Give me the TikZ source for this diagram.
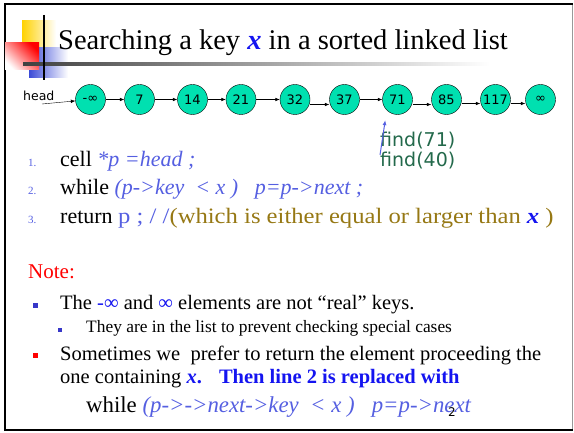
\documentclass[tikz,border=0pt]{standalone}
\usepackage{fontspec}
\setmainfont{Liberation Serif}
\newfontfamily\slidesans{DejaVu Sans}
\newfontfamily\widecode[FakeStretch=1.12]{Liberation Serif}
\usetikzlibrary{arrows.meta, positioning}
\definecolor{nodeteal}{RGB}{0, 224, 176}
\definecolor{codeblue}{RGB}{85, 95, 225}
\definecolor{keyblue}{RGB}{20, 20, 240}
\definecolor{commentolive}{RGB}{150, 120, 20}
\definecolor{findgreen}{RGB}{35, 105, 75}
\definecolor{bulletblue}{RGB}{55, 55, 200}
\definecolor{logoyellow}{RGB}{255, 210, 0}
\definecolor{logoblue}{RGB}{60, 75, 215}
\newcommand{\keyx}{\textcolor{keyblue}{\textbf{\textit{x}}}}

\begin{document}
\begin{tikzpicture}[x=1pt, y=-1pt,
  elem/.style={circle, draw=black, fill=nodeteal, minimum size=30pt, inner sep=0pt,
    font=\slidesans\fontsize{13}{13}\selectfont},
  nxt/.style={-{Latex[length=4.5pt, width=3.5pt]}, thin},
  ptr/.style={-{Latex[length=5pt, width=4pt]}, codeblue, line width=1pt},
  txt/.style={anchor=base west, inner sep=0pt},
  code/.style={txt, font=\fontsize{22}{26}\selectfont},
  item/.style={txt, font=\fontsize{20.5}{24}\selectfont},
  num/.style={txt, text=codeblue, font=\fontsize{11}{12}\selectfont}]
  \useasboundingbox (0,0) rectangle (574,433);

  % --- slide frame ---
  \draw[black!40, thin] (572,4) -- (572,430);
  \draw[black, line width=2pt] (4.5,431) -- (4.5,4.5) -- (573,4.5);
  \draw[black, line width=1.5pt] (4.5,430) -- (573,430);

  % --- logo ---
  \shade[left color=logoyellow, right color=white] (22,21) rectangle (56,48);
  \shade[left color=logoblue, middle color=logoblue!70, right color=white] (29,48) rectangle (68,78);
  \shade[top color=red, bottom color=white, shading angle=-45] (5,43) rectangle (39,70);
  \shade[left color=black!75, middle color=black!55, right color=white] (23,63) rectangle (490,65.5);
  \draw[black, line width=1.5pt] (44,15) -- (44,80);
  \node[txt, font=\fontsize{28.5}{34}\selectfont] (title) at (58,50)
    {Searching a key \keyx{} in a sorted linked list};

  % --- sorted linked list ---
  \foreach \i/\x/\v in {1/90.5/-∞, 2/139.5/7, 3/192.5/14, 4/241/21, 5/295/32,
                        6/344.5/37, 7/397.5/71, 8/446.5/85, 9/495.5/117, 10/540.5/∞}{
    \node[elem] (n\i) at (\x,99.5) {\v};
  }
  \foreach \a/\b/\d in {1/2/0, 2/3/0, 3/4/0, 4/5/0, 5/6/-5, 6/7/0, 7/8/-5, 8/9/-4, 9/10/-4}{
    \draw[nxt] ([yshift=\d pt]n\a.east) -- ([yshift=\d pt]n\b.west);
  }
  \node[txt, font=\slidesans\fontsize{12.5}{13}\selectfont] (head) at (23,101) {head};
  \coordinate (headtail) at (42,104);
  \draw[nxt] (headtail) -- (n1);

  % --- find calls ---
  \node[txt, text=findgreen, font=\slidesans\fontsize{19}{20}\selectfont] (find1) at (380,147) {find(71)};
  \node[txt, text=findgreen, font=\slidesans\fontsize{19}{20}\selectfont] (find2) at (380,167) {find(40)};
  \coordinate (findtail) at (380,155);
  \draw[ptr, shorten >=10pt] (findtail) -- (n7.south west);

  % --- code ---
  \node[num] (num1) at (28,167) {1.};
  \node[code] (line1) at (60,167) {cell \textcolor{codeblue}{\textit{*p =head ;}}};
  \node[num] (num2) at (28,195) {2.};
  \node[code] (line2) at (60,195) {while \textcolor{codeblue}{\textit{(p->key~~< x )~~~p=p->next ;}}};
  \node[num] (num3) at (28,224) {3.};
  \node[code] (line3) at (60,224) {return {\widecode\textcolor{codeblue}{p ; / /}\textcolor{commentolive}{(which is either equal or larger than \keyx{} )}}};

  % --- note ---
  \node[txt, text=red, font=\fontsize{21}{24}\selectfont] (note) at (28,279) {Note:};
  \fill[bulletblue] (33,303) rectangle (38,308);
  \node[item] (item1) at (60,309)
    {The \textcolor{keyblue}{-∞} and \textcolor{keyblue}{∞} elements are not “real” keys.};
  \fill[bulletblue] (58,328) rectangle (62,332);
  \node[txt, font=\fontsize{17.4}{20}\selectfont] (sub1) at (86,333)
    {They are in the list to prevent checking special cases};
  \fill[red] (33,353) rectangle (38,358);
  \node[item] (item2) at (60,361)
    {Sometimes we~ prefer to return the element proceeding the};
  \node[item] (item2b) at (60,384)
    {one containing \keyx\textcolor{keyblue}{\textbf{.}}~~ \textcolor{keyblue}{\textbf{Then line 2 is replaced with}}};
  \node[code, font=\fontsize{22.8}{26}\selectfont] (line2b) at (86,413)
    {while \textcolor{codeblue}{\textit{(p->->next->key~~< x )~~~p=p->next}}};
  \node[txt, font=\slidesans\fontsize{12}{13}\selectfont] (page) at (448,417) {2};
\end{tikzpicture}
\end{document}
